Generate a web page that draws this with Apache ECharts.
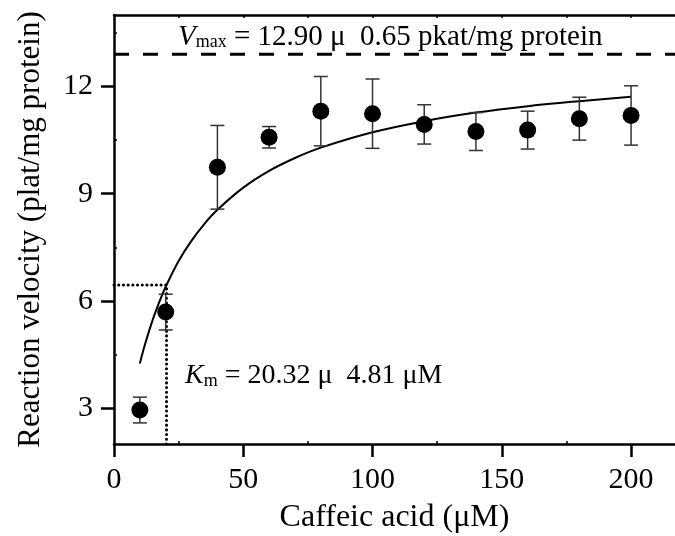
<!DOCTYPE html>
<html>
<head>
<meta charset="utf-8">
<script src="https://cdn.jsdelivr.net/npm/echarts@6/dist/echarts.min.js"></script>
<style>
  html, body { margin: 0; padding: 0; background: #fff; }
  #chart { width: 675px; height: 536px; }
</style>
</head>
<body>
<div id="chart"></div>
<script>
'use strict';

// measured points (mean and error bar half-length)
var concentrations = [10, 20, 40, 60, 80, 100, 120, 140, 160, 180, 200];
var velocities = [2.95, 5.69, 9.74, 10.58, 11.31, 11.24, 10.94, 10.74, 10.78, 11.10, 11.19];
var errors = [0.36, 0.50, 1.17, 0.30, 0.97, 0.97, 0.55, 0.53, 0.53, 0.60, 0.83];

// fitted curve
var fitX = [10, 12, 15, 18, 20, 25, 30, 35, 40, 50, 60, 70, 80, 100, 120, 140, 160, 180, 200];
var fitY = [4.25, 4.79, 5.48, 6.06, 6.40, 7.12, 7.69, 8.16, 8.55, 9.17, 9.64, 10.00, 10.29, 10.72, 11.03, 11.27, 11.45, 11.59, 11.71];

var vmax = 12.90;
var km = 20.32;
var halfVmax = 6.45;

var xTicks = [0, 50, 100, 150, 200];
var xMinorTicks = [25, 75, 125, 175];
var yTicks = [3, 6, 9, 12];
var yMinorTicks = [4.5, 7.5, 10.5, 13.5];

var FONT = "'Times New Roman', 'Liberation Serif', serif";

var chart = echarts.init(document.getElementById('chart'), null, { renderer: 'canvas' });

var points = concentrations.map(function (x, i) { return [x, velocities[i]]; });
var bars = concentrations.map(function (x, i) {
    return [x, velocities[i] - errors[i], velocities[i] + errors[i]];
});
var curve = fitX.map(function (x, i) { return [x, fitY[i]]; });

function renderErrorBar(params, api) {
    var lo = api.coord([api.value(0), api.value(1)]);
    var hi = api.coord([api.value(0), api.value(2)]);
    var cap = 7;
    var style = { stroke: '#333', lineWidth: 1.5, fill: null };
    return {
        type: 'group',
        children: [
            { type: 'line', shape: { x1: lo[0], y1: lo[1], x2: hi[0], y2: hi[1] }, style: style },
            { type: 'line', shape: { x1: lo[0] - cap, y1: lo[1], x2: lo[0] + cap, y2: lo[1] }, style: style },
            { type: 'line', shape: { x1: hi[0] - cap, y1: hi[1], x2: hi[0] + cap, y2: hi[1] }, style: style }
        ]
    };
}

function richStyle(size) {
    return {
        it: { fontSize: size, fontFamily: FONT, fontStyle: 'italic', verticalAlign: 'bottom' },
        sub: { fontSize: 18, fontFamily: FONT, verticalAlign: 'bottom' },
        n: { fontSize: size, fontFamily: FONT, verticalAlign: 'bottom' }
    };
}

var axisLine = { show: true, onZero: false, lineStyle: { color: '#000', width: 2.5 } };

var option = {
    animation: false,
    backgroundColor: '#fff',
    textStyle: { fontFamily: FONT, color: '#000' },
    grid: { left: 114, right: 0, top: 15, bottom: 92, containLabel: false, outerBoundsMode: 'none' },
    xAxis: [
        {
            type: 'value', position: 'bottom', min: 0, max: 217,
            axisLine: axisLine,
            axisTick: { show: true, length: 13, customValues: xTicks, lineStyle: { color: '#000', width: 2.5 } },
            axisLabel: { customValues: xTicks, fontSize: 30, fontFamily: FONT, color: '#000', margin: 21 },
            splitLine: { show: false },
            name: 'Caffeic acid (μM)', nameLocation: 'middle', nameGap: 58,
            nameTextStyle: { fontSize: 32, fontFamily: FONT, color: '#000' }
        },
        {
            // minor ticks pointing inward
            type: 'value', position: 'bottom', min: 0, max: 217,
            axisLine: { show: false },
            axisTick: { show: true, inside: true, length: 3, customValues: xMinorTicks, lineStyle: { color: '#000', width: 1.5 } },
            axisLabel: { show: false },
            splitLine: { show: false }
        },
        {
            type: 'value', position: 'top', min: 0, max: 217,
            axisLine: axisLine,
            axisTick: { show: true, inside: true, length: 3, customValues: [25, 50, 75, 100, 125, 150, 175, 200], lineStyle: { color: '#000', width: 1.5 } },
            axisLabel: { show: false },
            splitLine: { show: false }
        }
    ],
    yAxis: [
        {
            type: 'value', position: 'left', min: 2, max: 14,
            axisLine: axisLine,
            axisTick: { show: true, length: 13, customValues: yTicks, lineStyle: { color: '#000', width: 2.5 } },
            axisLabel: { customValues: yTicks, fontSize: 30, fontFamily: FONT, color: '#000', margin: 21 },
            splitLine: { show: false },
            name: 'Reaction velocity (plat/mg protein)', nameLocation: 'middle', nameGap: 68,
            nameTextStyle: { fontSize: 31, fontFamily: FONT, color: '#000' }
        },
        {
            type: 'value', position: 'left', min: 2, max: 14,
            axisLine: { show: false },
            axisTick: { show: true, inside: true, length: 3, customValues: yMinorTicks, lineStyle: { color: '#000', width: 1.5 } },
            axisLabel: { show: false },
            splitLine: { show: false }
        }
    ],
    series: [
        {
            name: 'Vmax',
            type: 'line',
            data: [[0, vmax], [217, vmax]],
            symbol: 'none',
            lineStyle: { color: '#000', width: 3, type: [15, 14] },
            silent: true
        },
        {
            name: 'Km guide',
            type: 'line',
            data: [[0, halfVmax], [km, halfVmax], [km, 2]],
            symbol: 'none',
            lineStyle: { color: '#000', width: 3, type: [0.1, 4.6], cap: 'round' },
            silent: true
        },
        {
            name: 'fit',
            type: 'line',
            data: curve,
            symbol: 'none',
            smooth: 0.4,
            lineStyle: { color: '#000', width: 2 },
            z: 3
        },
        {
            name: 'error',
            type: 'custom',
            data: bars,
            renderItem: renderErrorBar,
            encode: { x: 0, y: [1, 2] },
            z: 4
        },
        {
            name: 'mean',
            type: 'scatter',
            data: points,
            symbol: 'circle',
            symbolSize: 17,
            itemStyle: { color: '#000', opacity: 1 },
            z: 5
        }
    ],
    graphic: [
        {
            type: 'text',
            style: {
                x: 178, y: 37,
                text: '{it|V}{sub|max}{n| = 12.90 μ  0.65 pkat/mg protein}',
                verticalAlign: 'middle',
                fill: '#000',
                rich: richStyle(29)
            }
        },
        {
            type: 'text',
            style: {
                x: 185, y: 376,
                text: '{it|K}{sub|m}{n| = 20.32 μ  4.81 μM}',
                verticalAlign: 'middle',
                fill: '#000',
                rich: richStyle(28)
            }
        }
    ]
};

chart.setOption(option);
</script>
</body>
</html>
